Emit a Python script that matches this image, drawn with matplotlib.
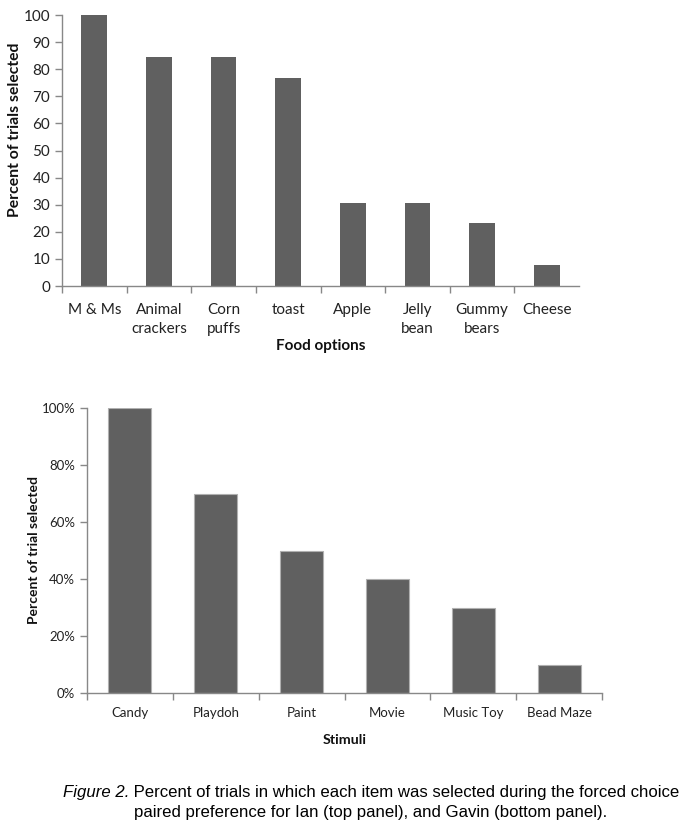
import matplotlib
matplotlib.use("Agg")
import matplotlib.pyplot as plt
import numpy as np

food = ["M & Ms", "Animal\ncrackers", "Corn\npuffs", "toast", "Apple",
        "Jelly\nbean", "Gummy\nbears", "Cheese"]
food_vals = [100, 84.6, 84.6, 76.9, 30.8, 30.8, 23.1, 7.7]
food_yticks = [0, 10, 20, 30, 40, 50, 60, 70, 80, 90, 100]

stimuli = ["Candy", "Playdoh", "Paint", "Movie", "Music Toy", "Bead Maze"]
stim_vals = [100, 70, 50, 40, 30, 10]
stim_yticks = [0, 20, 40, 60, 80, 100]
stim_yticklabels = ["0%", "20%", "40%", "60%", "80%", "100%"]

caption1 = "Figure 2."
caption1b = " Percent of trials in which each item was selected during the forced choice"
caption2 = "paired preference for Ian (top panel), and Gavin (bottom panel)."

W, H = 681, 827
fig = plt.figure(figsize=(W / 100, H / 100), dpi=100)
bar_c = "#606060"
axis_c = "#888888"
text_c = "#222222"
sans = ["Lato", "DejaVu Sans"]


def ax_rect(l, r, t, b):
    return [l / W, 1 - b / H, (r - l) / W, (b - t) / H]


def style(ax):
    for s in ["top", "right"]:
        ax.spines[s].set_visible(False)
    for s in ["left", "bottom"]:
        ax.spines[s].set_color(axis_c)
        ax.spines[s].set_linewidth(1.0)
    ax.tick_params(axis="both", color=axis_c, labelcolor=text_c, length=5, width=1.0)
    ax.tick_params(axis="x", which="major", length=0)
    ax.tick_params(axis="x", which="minor", length=5, color=axis_c, width=1.0)


# Top panel
ax1 = fig.add_axes(ax_rect(62, 579, 15, 286))
x1 = np.arange(len(food))
ax1.bar(x1, food_vals, width=0.4, color=bar_c, edgecolor="none")
ax1.set_xlim(-0.5, len(food) - 0.5)
ax1.set_ylim(0, 100)
ax1.set_yticks(food_yticks)
ax1.set_yticklabels([str(v) for v in food_yticks], fontsize=11, family=sans)
ax1.set_xticks(x1)
ax1.set_xticklabels(food, fontsize=11, family=sans, linespacing=1.5, va="top")
ax1.set_xticks(np.arange(-0.5, len(food) - 0.5, 1), minor=True)
style(ax1)
ax1.tick_params(axis="x", pad=12)
ax1.set_ylabel("Percent of trials selected", fontsize=11.3, family=sans,
               fontweight="bold", labelpad=1, color="#111111", y=0.576)
ax1.set_xlabel("Food options", fontsize=11, family=sans, fontweight="bold",
               labelpad=2, color="#111111")

# Bottom panel
ax2 = fig.add_axes(ax_rect(87, 602, 408, 693))
x2 = np.arange(len(stimuli))
ax2.bar(x2, stim_vals, width=0.5, color=bar_c, edgecolor="#b0b0b0", linewidth=0.8)
ax2.set_xlim(-0.5, len(stimuli) - 0.5)
ax2.set_ylim(0, 100)
ax2.set_yticks(stim_yticks)
ax2.set_yticklabels(stim_yticklabels, fontsize=9.5, family=sans)
ax2.set_xticks(x2)
ax2.set_xticklabels(stimuli, fontsize=9.5, family=sans)
ax2.set_xticks(np.arange(-0.5, len(stimuli) + 0.5, 1), minor=True)
style(ax2)
ax2.tick_params(axis="x", pad=10)
ax2.set_ylabel("Percent of trial selected", fontsize=10, family=sans,
               fontweight="bold", labelpad=1, color="#111111")
ax2.set_xlabel("Stimuli", fontsize=10.3, family=sans, fontweight="bold",
               labelpad=11, color="#111111")

# Caption
cap_font = ["Liberation Sans", "DejaVu Sans"]
t1 = fig.text(63 / W, 1 - 793 / H, caption1, fontsize=12.1, family=cap_font,
              style="italic", va="center", ha="left")
fig.canvas.draw()
bb = t1.get_window_extent()
fig.text(bb.x1 / W, 1 - 793 / H, caption1b, fontsize=12.1, family=cap_font,
         va="center", ha="left")
fig.text(371 / W, 1 - 813 / H, caption2, fontsize=12.1, family=cap_font,
         va="center", ha="center")

fig.savefig("out.png", dpi=100)
